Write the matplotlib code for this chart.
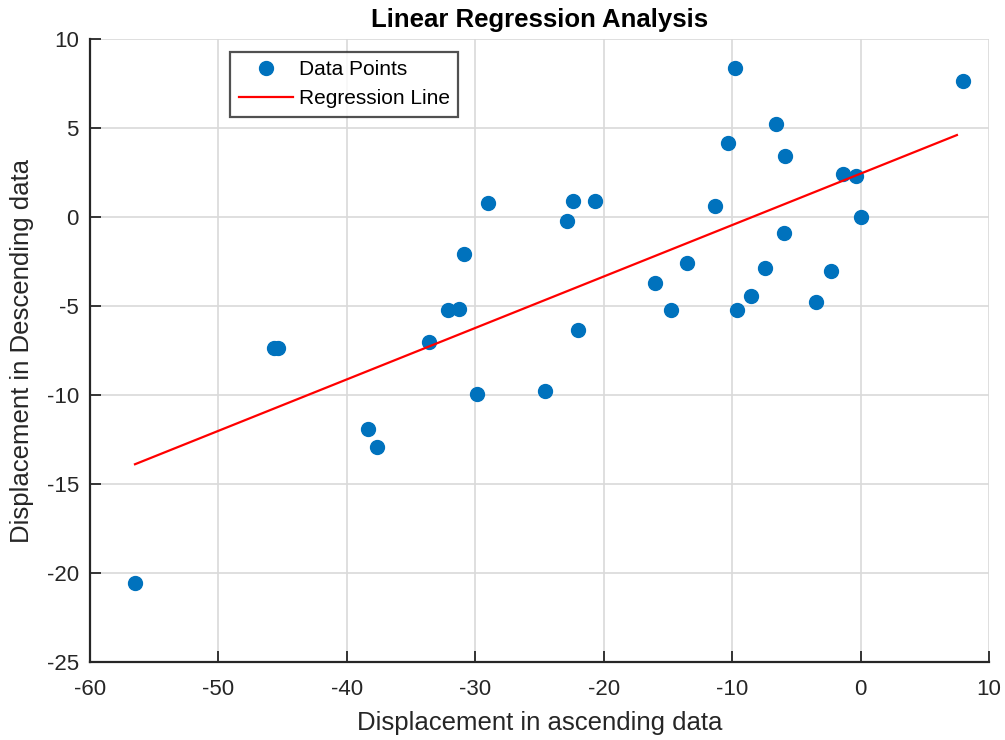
import numpy as np
import matplotlib
matplotlib.use('Agg')
import matplotlib.pyplot as plt

plt.rcParams['font.family'] = ['Liberation Sans', 'DejaVu Sans']
plt.rcParams['axes.unicode_minus'] = False

# Pontos
asc_x = [-56.5, -45.7, -45.4, -38.35, -37.65, -33.6, -32.1, -31.25, -30.85, -29.9,
         -29.05, -24.55, -22.85, -22.4, -22.0, -20.7, -16.0, -14.8, -13.55, -11.3,
         -10.35, -9.75, -9.65, -8.5, -7.45, -6.55, -6.0, -5.9, -3.5, -2.3,
         -1.35, -0.35, 0.0, 8.0]
desc_y = [-20.55, -7.35, -7.35, -11.9, -12.9, -7.0, -5.25, -5.15, -2.1, -9.95,
          0.8, -9.8, -0.2, 0.9, -6.35, 0.9, -3.7, -5.25, -2.6, 0.6,
          4.15, 8.35, -5.25, -4.45, -2.85, 5.25, -0.9, 3.45, -4.75, -3.05,
          2.4, 2.3, 0.0, 7.65]

# Reta de regressao
fit_slope = 0.289
fit_intercept = 2.44
line_x = [-56.5, 7.5]

axis_color = '#262626'

fig = plt.figure(figsize=(10.05, 7.4), dpi=100)
ax = fig.add_axes([0.0896, 0.1054, 0.8945, 0.8418])

ax.plot(asc_x, desc_y, 'o', color='#0072BD', markersize=10, label='Data Points')
lx = np.array(line_x)
ax.plot(lx, fit_slope * lx + fit_intercept, '-', color='#FF0000', linewidth=1.6,
        label='Regression Line')

ax.set_xlim(-60, 10)
ax.set_ylim(-25, 10)
ax.set_xticks(np.arange(-60, 11, 10))
ax.set_yticks(np.arange(-25, 11, 5))

ax.grid(True, color='#D9D9D9', linewidth=1.2)
ax.set_axisbelow(True)

for s in ['top', 'right']:
    ax.spines[s].set_visible(False)
for s in ['left', 'bottom']:
    ax.spines[s].set_color(axis_color)
    ax.spines[s].set_linewidth(1.6)

ax.tick_params(direction='in', length=8, width=1.3, color=axis_color,
               labelsize=16, labelcolor=axis_color)
ax.tick_params(axis='x', pad=12)
ax.tick_params(axis='y', pad=8)

ax.set_title('Linear Regression Analysis', fontsize=18.5, fontweight='bold',
             color='black', pad=9)
ax.set_xlabel('Displacement in ascending data', fontsize=18.5, color=axis_color, labelpad=8)
ax.set_ylabel('Displacement in Descending data', fontsize=18.5, color=axis_color, labelpad=9)

leg = ax.legend(loc='upper left', bbox_to_anchor=(0.156, 0.98), fontsize=15,
                frameon=True, fancybox=False, edgecolor=axis_color,
                handlelength=2.6, borderpad=0.4, labelspacing=0.5,
                handletextpad=0.3, borderaxespad=0)
leg.get_frame().set_linewidth(1.6)

fig.savefig('out.png', dpi=100)
